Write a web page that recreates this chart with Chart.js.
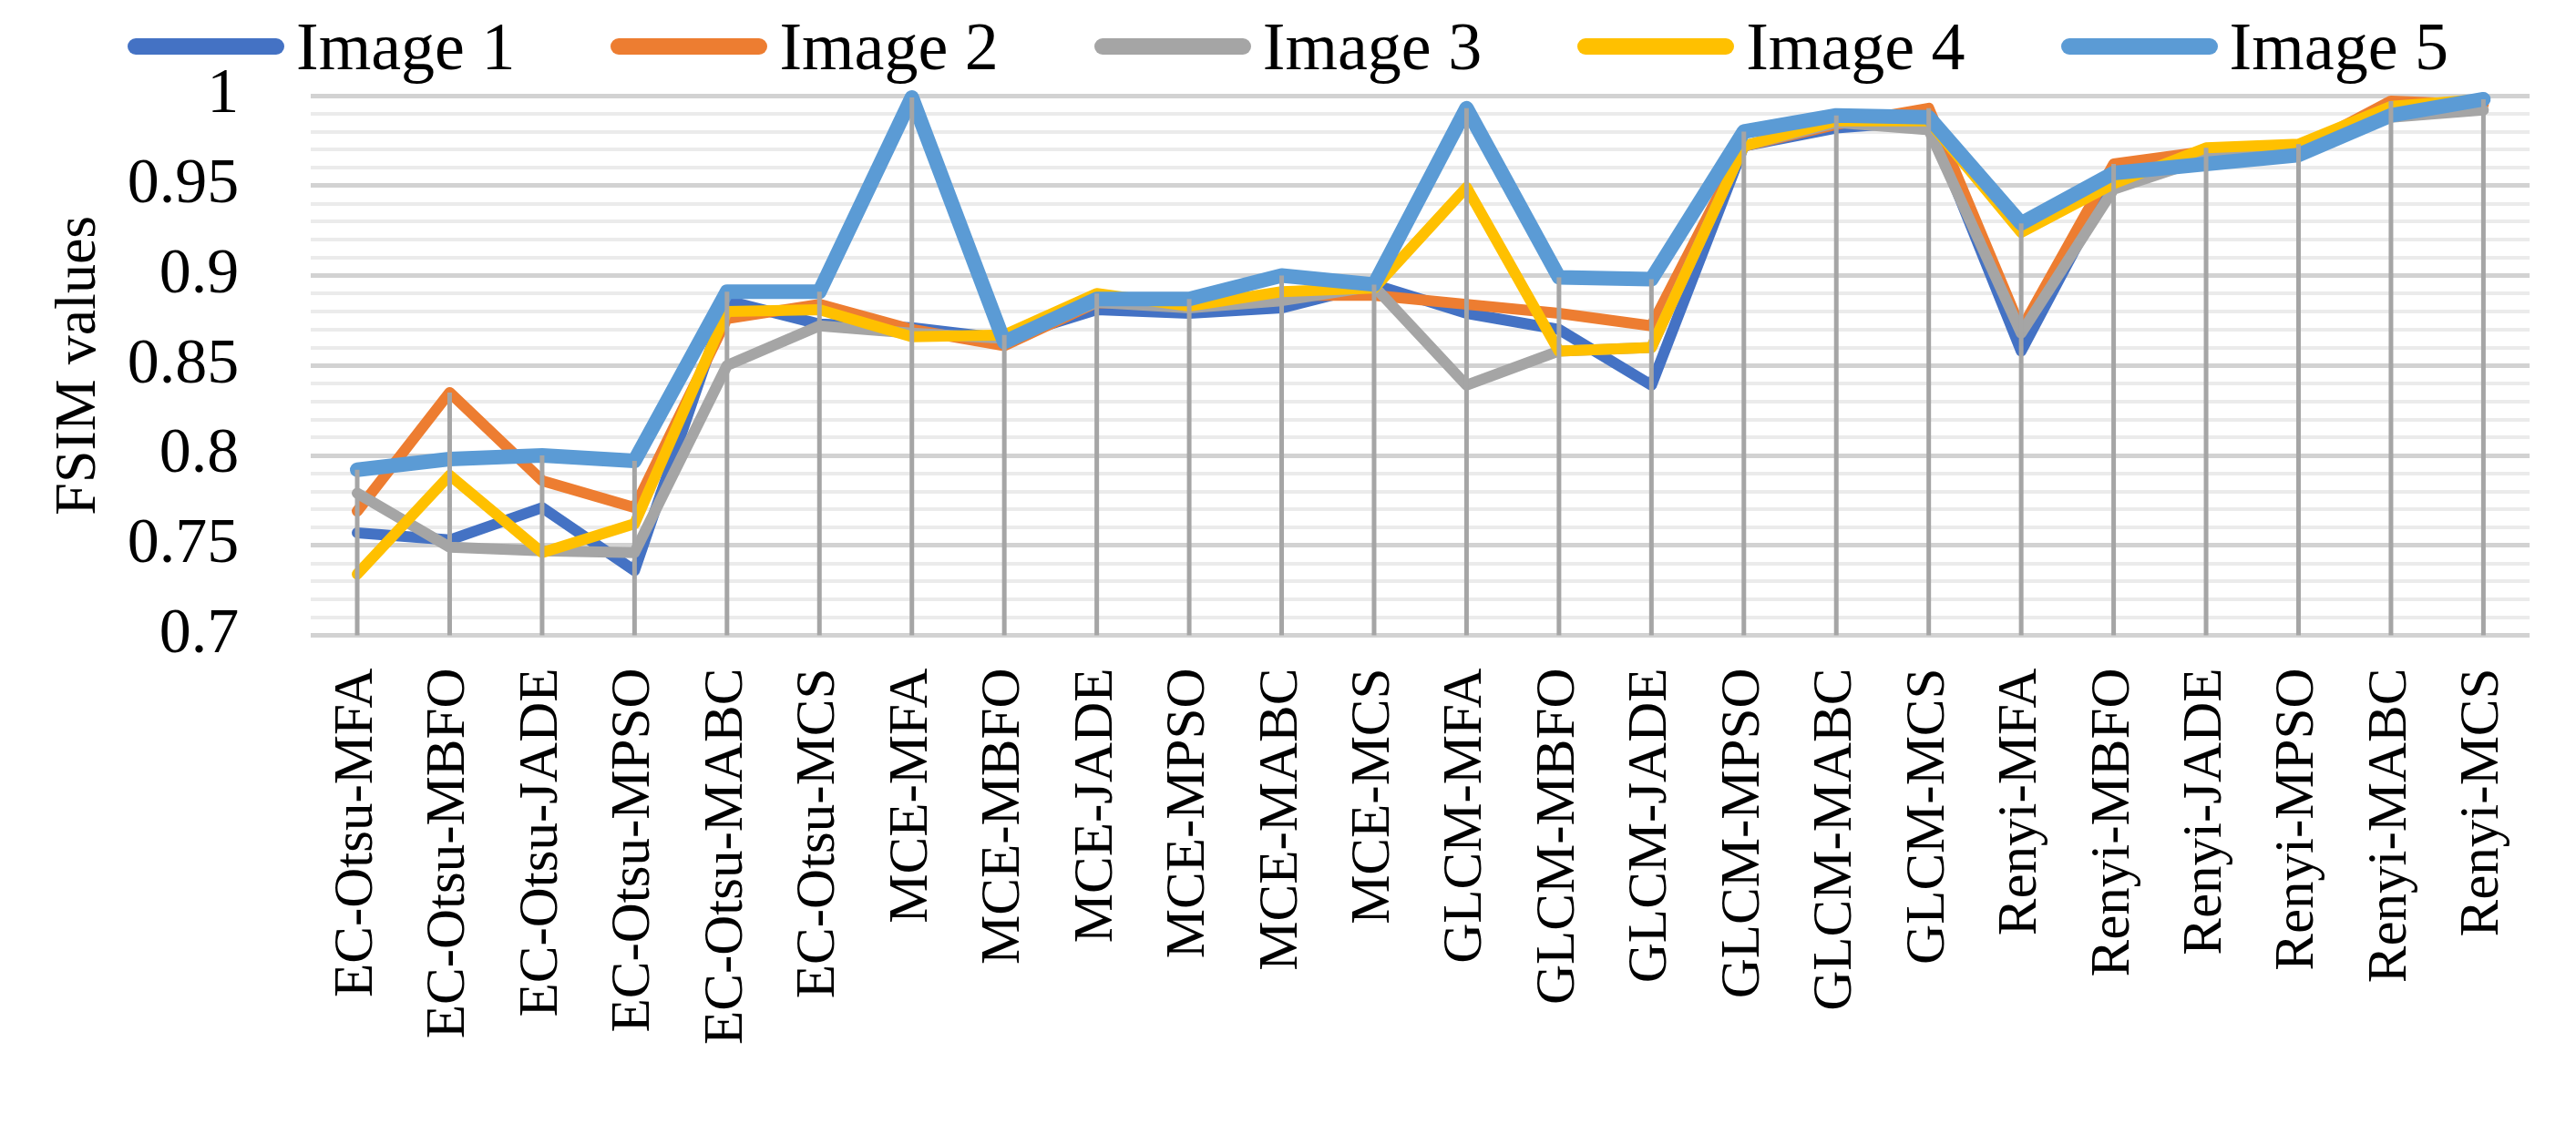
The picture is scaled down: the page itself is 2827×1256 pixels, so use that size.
<!DOCTYPE html>
<html>
<head>
<meta charset="utf-8">
<script src="https://cdn.jsdelivr.net/npm/chart.js@4.4.1/dist/chart.umd.min.js"></script>
<style>
    body { margin: 0; background: #fff; font-family: 'Liberation Serif', 'Times New Roman', serif; }
    #wrap { position: relative; width: 2827px; height: 1256px; }
    #legend {
        position: absolute; top: 14px; left: 0; width: 2827px;
        display: flex; justify-content: center; gap: 105px;
        font-size: 74px; line-height: 74px; color: #000;
    }
    .item { display: flex; align-items: center; gap: 13px; white-space: nowrap; }
    .swatch { width: 172px; height: 18px; border-radius: 9px; }
</style>
</head>
<body>
<div id="wrap">
    <canvas id="fsimChart"></canvas>
    <div id="legend"></div>
</div>
<script>
const methods = [
    'EC-Otsu-MFA', 'EC-Otsu-MBFO', 'EC-Otsu-JADE', 'EC-Otsu-MPSO', 'EC-Otsu-MABC', 'EC-Otsu-MCS',
    'MCE-MFA', 'MCE-MBFO', 'MCE-JADE', 'MCE-MPSO', 'MCE-MABC', 'MCE-MCS',
    'GLCM-MFA', 'GLCM-MBFO', 'GLCM-JADE', 'GLCM-MPSO', 'GLCM-MABC', 'GLCM-MCS',
    'Renyi-MFA', 'Renyi-MBFO', 'Renyi-JADE', 'Renyi-MPSO', 'Renyi-MABC', 'Renyi-MCS'
];

const image1 = [0.757, 0.753, 0.771, 0.736, 0.886, 0.873, 0.871, 0.865, 0.881, 0.879, 0.882, 0.895,
    0.879, 0.870, 0.839, 0.972, 0.982, 0.986, 0.858, 0.955, 0.966, 0.970, 0.992, 0.997];
const image2 = [0.769, 0.835, 0.786, 0.771, 0.876, 0.884, 0.870, 0.861, 0.885, 0.884, 0.889, 0.889,
    0.884, 0.879, 0.872, 0.972, 0.984, 0.993, 0.870, 0.962, 0.969, 0.970, 0.997, 0.995];
const image3 = [0.779, 0.749, 0.747, 0.746, 0.850, 0.872, 0.868, 0.865, 0.885, 0.882, 0.886, 0.894,
    0.839, 0.858, 0.860, 0.972, 0.985, 0.981, 0.868, 0.948, 0.965, 0.970, 0.988, 0.992];
const image4 = [0.734, 0.789, 0.746, 0.762, 0.880, 0.881, 0.866, 0.867, 0.890, 0.883, 0.891, 0.893,
    0.949, 0.858, 0.860, 0.972, 0.986, 0.986, 0.924, 0.951, 0.971, 0.973, 0.994, 0.998];
const image5 = [0.792, 0.798, 0.800, 0.797, 0.891, 0.891, 0.999, 0.863, 0.887, 0.887, 0.900, 0.895,
    0.993, 0.899, 0.898, 0.980, 0.989, 0.988, 0.929, 0.957, 0.962, 0.967, 0.989, 0.998];

const seriesNames = ['Image 1', 'Image 2', 'Image 3', 'Image 4', 'Image 5'];
const seriesValues = [image1, image2, image3, image4, image5];
const seriesColors = ['#4472C4', '#ED7D31', '#A5A5A5', '#FFC000', '#5B9BD5'];
const seriesWidths = [12, 12, 12, 12, 16];

const isMajor = (v) => Math.round(v * 100) % 5 === 0;

// gray drop lines from the highest point of each category down to the axis
const dropLines = {
    id: 'dropLines',
    afterDatasetsDraw(chart) {
        const { ctx, scales: { x, y } } = chart;
        ctx.save();
        ctx.strokeStyle = '#A5A5A5';
        ctx.lineWidth = 5;
        methods.forEach((m, i) => {
            const top = Math.max(...seriesValues.map((s) => s[i]));
            const px = x.getPixelForValue(i);
            ctx.beginPath();
            ctx.moveTo(px, y.getPixelForValue(top));
            ctx.lineTo(px, y.getPixelForValue(0.7));
            ctx.stroke();
        });
        ctx.restore();
    }
};

// legend row as html, one entry per series
const legendEl = document.getElementById('legend');
seriesNames.forEach((name, i) => {
    const item = document.createElement('div');
    item.className = 'item';
    const sw = document.createElement('span');
    sw.className = 'swatch';
    sw.style.background = seriesColors[i];
    const txt = document.createElement('span');
    txt.textContent = name;
    item.append(sw, txt);
    legendEl.append(item);
});

Chart.defaults.font.family = "'Liberation Serif', 'Times New Roman', serif";
Chart.defaults.color = '#000';

const ctx = document.getElementById('fsimChart').getContext('2d');
new Chart(ctx, {
    type: 'line',
    data: {
        labels: methods,
        datasets: seriesNames.map((name, i) => ({
            label: name,
            data: seriesValues[i],
            borderColor: seriesColors[i],
            backgroundColor: seriesColors[i],
            borderWidth: seriesWidths[i],
            borderJoinStyle: 'round',
            borderCapStyle: 'round',
            pointRadius: 0,
            tension: 0,
            clip: false,
            order: seriesNames.length - i
        }))
    },
    options: {
        responsive: true,
        maintainAspectRatio: false,
        animation: false,
        layout: { padding: { top: 105, left: 0, right: 20, bottom: 81 } },
        plugins: {
            tooltip: { enabled: false },
            legend: { display: false }
        },
        scales: {
            x: {
                offset: true,
                grid: { display: false },
                border: { display: false },
                ticks: {
                    autoSkip: false,
                    minRotation: 90,
                    maxRotation: 90,
                    padding: 28,
                    font: { size: 61 }
                }
            },
            y: {
                min: 0.7,
                max: 1.0,
                border: { display: false },
                afterFit: (scale) => {
                    scale.paddingTop = 0;
                },
                grid: {
                    drawTicks: false,
                    color: (c) => (isMajor(c.tick.value) ? '#d2d2d2' : '#ebebeb'),
                    lineWidth: (c) => (isMajor(c.tick.value) ? 5 : 4)
                },
                ticks: {
                    stepSize: 0.01,
                    autoSkip: false,
                    padding: 79,
                    font: { size: 70 },
                    callback: (v) => (isMajor(v) ? String(Math.round(v * 100) / 100) : '')
                },
                title: {
                    display: true,
                    text: 'FSIM values',
                    font: { size: 64 },
                    padding: { top: 49, bottom: -65 }
                }
            }
        }
    },
    plugins: [dropLines]
});
</script>
</body>
</html>
